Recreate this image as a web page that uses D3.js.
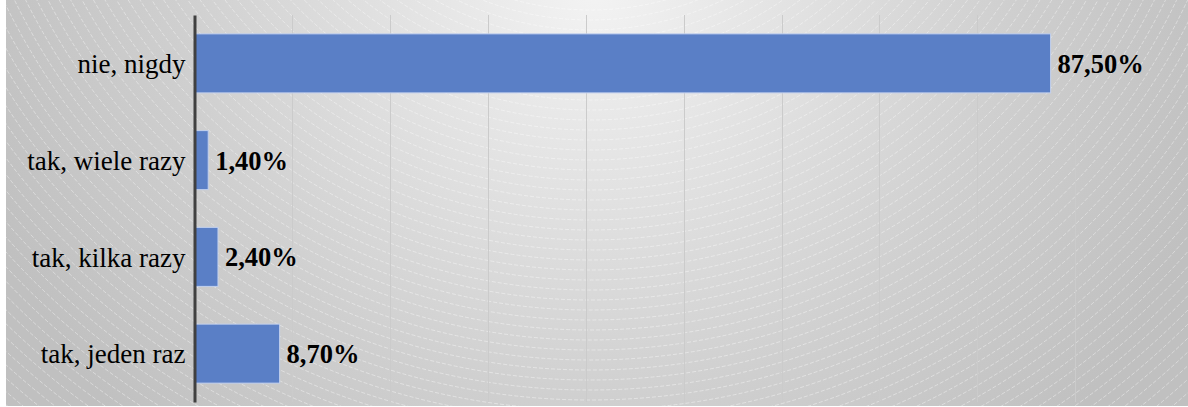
<!DOCTYPE html>
<html>
<head>
<meta charset="utf-8">
<script src="https://cdn.jsdelivr.net/npm/d3@7"></script>
<style>
  body { margin: 0; background: #fff; }
  svg { display: block; }
</style>
</head>
<body>
<script>
// data
categories = ["nie, nigdy", "tak, wiele razy", "tak, kilka razy", "tak, jeden raz"]
values = [87.5, 1.4, 2.4, 8.7]
gridTicks = [10, 20, 30, 40, 50, 60, 70, 80, 90]

width = 1188
height = 407
margin = {top: 15, right: 15, bottom: 5, left: 194.5}

pl = d3.formatLocale({decimal: ",", thousands: " ", grouping: [3], currency: ["", "%"]})
fmt = v => pl.format(".2f")(v) + "%"

// scales
x = d3.scaleLinear()
  .domain([0, 100])
  .range([margin.left, width - margin.right - 0.1])

y = d3.scaleBand()
  .domain(categories)
  .range([margin.top, height - margin.bottom])
  .paddingInner(0.39)
  .paddingOuter(0.195)

var svg = d3.select("body").append("svg")
  .attr("width", width)
  .attr("height", height)
  .attr("viewBox", [0, 0, width, height])

var defs = svg.append("defs")
var grad = defs.append("radialGradient")
  .attr("id", "bg")
  .attr("gradientUnits", "userSpaceOnUse")
  .attr("cx", 594).attr("cy", -10).attr("r", 640)
grad.selectAll("stop")
  .data([[0, "#f3f3f3"], [0.35, "#e0e0e0"], [0.65, "#cfcfcf"], [1, "#c0c0c0"]])
  .join("stop")
  .attr("offset", d => d[0])
  .attr("stop-color", d => d[1])

defs.append("clipPath").attr("id", "clip")
  .append("rect").attr("x", 6).attr("y", 0).attr("width", width - 6).attr("height", 406)

// chart area background
svg.append("rect")
  .attr("x", 6).attr("y", 0)
  .attr("width", width - 6).attr("height", 406)
  .attr("fill", "url(#bg)")

// faint concentric arcs (background texture)
svg.append("g")
  .attr("clip-path", "url(#clip)")
  .attr("fill", "none")
  .attr("stroke", "#ffffff")
  .attr("stroke-opacity", 0.5)
  .attr("stroke-width", 0.8)
  .attr("stroke-dasharray", "4 2")
  .selectAll("circle")
  .data(d3.range(290, 960, 10))
  .join("circle")
  .attr("cx", 590)
  .attr("cy", -280)
  .attr("r", d => d)

// vertical gridlines
svg.append("g")
  .attr("stroke", "#cbcbcb")
  .attr("stroke-width", 1)
  .selectAll("line")
  .data(gridTicks)
  .join("line")
  .attr("x1", d => Math.round(x(d)) + 0.5)
  .attr("x2", d => Math.round(x(d)) + 0.5)
  .attr("y1", margin.top)
  .attr("y2", height - margin.bottom)

// bars
svg.append("g")
  .selectAll("rect")
  .data(values)
  .join("rect")
  .attr("x", x(0))
  .attr("y", (d, i) => y(categories[i]))
  .attr("width", d => x(d) - x(0))
  .attr("height", y.bandwidth())
  .attr("fill", "#5a7fc6")
  .attr("stroke", "#c3d1ee")
  .attr("stroke-width", 1)

// value labels
svg.append("g")
  .attr("font-family", "'Liberation Serif', 'Times New Roman', serif")
  .attr("font-size", 26.5)
  .attr("font-weight", "bold")
  .attr("fill", "#000")
  .selectAll("text")
  .data(values)
  .join("text")
  .attr("x", d => x(d) + 7)
  .attr("y", (d, i) => y(categories[i]) + y.bandwidth() / 2)
  .attr("dy", "0.36em")
  .text(d => fmt(d))

// category axis
var gy = svg.append("g")
  .attr("transform", "translate(" + margin.left + ",0)")
  .call(d3.axisLeft(y).tickSize(0).tickPadding(9))
gy.select(".domain")
  .attr("stroke", "#404040")
  .attr("stroke-width", 3)
gy.selectAll("text")
  .attr("font-family", "'Liberation Serif', 'Times New Roman', serif")
  .attr("font-size", 27)
  .attr("fill", "#000")
  .attr("dy", "0.36em")
</script>
</body>
</html>
